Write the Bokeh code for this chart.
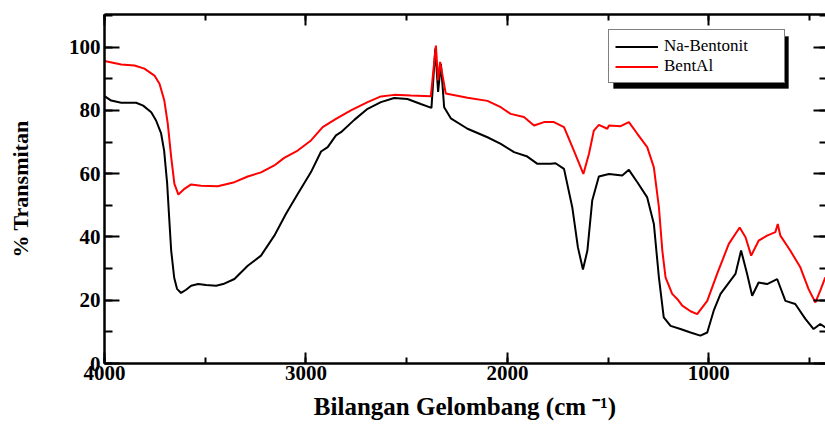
from bokeh.plotting import figure
from bokeh.models import Range1d, LinearAxis, SingleIntervalTicker, Legend, LegendItem, BoxAnnotation
from bokeh.embed import file_html
from bokeh.resources import INLINE

# Na-Bentonit (black)
wn_na = [4000, 3967, 3917, 3843, 3808, 3768, 3744, 3719, 3704, 3689, 3679, 3669, 3654,
         3640, 3620, 3595, 3570, 3535, 3496, 3446, 3411, 3355, 3289, 3223, 3157, 3099,
         3041, 2975, 2925, 2892, 2851, 2826, 2760, 2694, 2628, 2562, 2496, 2430, 2377,
         2358, 2344, 2330, 2314, 2281, 2198, 2099, 2033, 1967, 1901, 1851, 1785, 1761,
         1719, 1678, 1650, 1625, 1603, 1579, 1546, 1496, 1430, 1397, 1355, 1306, 1273,
         1248, 1224, 1190, 1141, 1091, 1042, 1008, 976, 942, 893, 868, 840, 810, 785,
         753, 711, 661, 620, 571, 521, 480, 447, 422]
t_na = [84.5, 83.1, 82.4, 82.4, 81.5, 79.4, 76.8, 72.7, 67.3, 56.9, 46.1, 35.7, 27.1,
        23.6, 22.3, 23.3, 24.6, 25.1, 24.8, 24.6, 25.1, 26.7, 30.9, 34.1, 40.4, 47.3,
        53.6, 60.5, 67.0, 68.4, 72.1, 73.1, 77.0, 80.5, 82.6, 83.9, 83.6, 82.0, 80.8,
        99.5, 85.8, 94.7, 81.0, 77.5, 74.2, 71.5, 69.4, 66.8, 65.4, 63.1, 63.1, 63.3,
        61.5, 49.4, 36.7, 29.7, 35.7, 51.5, 59.1, 59.9, 59.4, 61.2, 57.3, 52.5, 44.1,
        27.2, 14.6, 11.9, 10.9, 9.8, 8.8, 9.8, 16.7, 22.0, 26.2, 28.3, 35.7, 28.3, 21.4,
        25.6, 25.1, 26.7, 19.8, 18.8, 14.1, 10.9, 12.5, 11.4]

# BentAl (red)
wn_al = [4000, 3917, 3851, 3802, 3752, 3727, 3703, 3686, 3669, 3653, 3633, 3603, 3570,
         3521, 3438, 3355, 3289, 3223, 3157, 3108, 3041, 2975, 2917, 2851, 2777, 2694,
         2628, 2562, 2479, 2380, 2355, 2344, 2334, 2306, 2198, 2099, 2033, 1984, 1918,
         1868, 1818, 1769, 1719, 1670, 1623, 1595, 1571, 1546, 1504, 1496, 1438, 1397,
         1355, 1306, 1273, 1248, 1231, 1215, 1182, 1157, 1132, 1091, 1058, 1008, 959,
         901, 847, 818, 790, 753, 711, 670, 658, 645, 596, 546, 505, 471, 447, 422]
t_al = [95.6, 94.5, 94.2, 93.2, 91.0, 88.4, 83.1, 75.8, 65.2, 56.8, 53.4, 55.2, 56.6,
        56.2, 56.0, 57.3, 59.1, 60.4, 62.6, 65.0, 67.3, 70.5, 74.7, 77.3, 80.0, 82.6,
        84.4, 84.9, 84.7, 84.5, 100.5, 89.5, 95.3, 85.3, 84.0, 83.0, 81.0, 78.9, 77.9,
        75.2, 76.3, 76.3, 74.7, 67.3, 59.9, 66.3, 73.6, 75.4, 74.2, 75.2, 75.0, 76.3,
        72.6, 68.4, 62.0, 49.4, 35.7, 27.2, 22.0, 20.4, 18.3, 16.5, 15.6, 19.8, 28.3,
        37.8, 43.0, 39.9, 34.1, 38.8, 40.4, 41.5, 44.1, 40.4, 35.7, 30.4, 23.5, 19.3,
        23.0, 27.2]

series_labels = ["Na-Bentonit", "BentAl"]
x_label = "Bilangan Gelombang (cm \u207b\u00b9)"
y_label = "% Transmitan"

FONT = "Liberation Serif"

W, H = 825, 426
B_LEFT, B_TOP, B_BOTTOM = 104, 14, 63
X0, X1 = 4000, 421
Y0, Y1 = 0, 110.3

p = figure(width=W, height=H, output_backend="svg", toolbar_location=None,
           x_range=Range1d(X0, X1), y_range=Range1d(Y0, Y1),
           min_border_left=B_LEFT, min_border_right=0, min_border_top=B_TOP,
           min_border_bottom=B_BOTTOM,
           x_axis_label=x_label, y_axis_label=y_label)
p.grid.visible = False
p.outline_line_color = None
p.background_fill_color = "white"
p.border_fill_color = "white"

p.xaxis.ticker = SingleIntervalTicker(interval=1000, num_minor_ticks=2)
p.yaxis.ticker = SingleIntervalTicker(interval=20, num_minor_ticks=2)

for ax in (p.xaxis[0], p.yaxis[0]):
    ax.axis_line_width = 2.5
    ax.major_tick_out = 0
    ax.minor_tick_out = 0
    ax.major_tick_line_width = 2
    ax.minor_tick_line_width = 2
    ax.major_label_text_font = FONT
    ax.major_label_text_font_style = "bold"
    ax.major_label_text_font_size = "21px"
    ax.major_label_text_color = "black"
    ax.axis_label_text_font = FONT
    ax.axis_label_text_font_style = "bold"
    ax.axis_label_text_color = "black"

p.xaxis.major_tick_in = 11
p.xaxis.minor_tick_in = 6
p.xaxis.major_label_standoff = 2
p.xaxis.axis_label_standoff = 10
p.xaxis.axis_label_text_font_size = "25px"
p.yaxis.major_tick_in = 15
p.yaxis.minor_tick_in = 8
p.yaxis.major_label_standoff = 4
p.yaxis.axis_label_standoff = 33
p.yaxis.axis_label_text_font_size = "22px"

top_axis = LinearAxis(ticker=SingleIntervalTicker(interval=1000, num_minor_ticks=2),
                      major_label_text_font_size="1px", major_label_text_color=None,
                      major_label_standoff=0,
                      major_tick_in=11, major_tick_out=0, minor_tick_in=6, minor_tick_out=0,
                      major_tick_line_width=2, minor_tick_line_width=2, axis_line_width=2.5)
right_axis = LinearAxis(ticker=SingleIntervalTicker(interval=20, num_minor_ticks=2),
                        major_label_text_font_size="1px", major_label_text_color=None,
                        major_label_standoff=0, axis_line_color=None,
                        major_tick_in=12, major_tick_out=0, minor_tick_in=6, minor_tick_out=0,
                        major_tick_line_width=2, minor_tick_line_width=2)
p.add_layout(top_axis, "above")
p.add_layout(right_axis, "right")

rb = p.line(wn_na, t_na, line_color="black", line_width=2)
rr = p.line(wn_al, t_al, line_color="red", line_width=2)

# legend box (screen px, relative to the frame's bottom-left) and its drop shadow
frame_w = W - B_LEFT
frame_h = H - B_TOP - B_BOTTOM
LG_X, LG_Y, LG_W, LG_H, SH = 504, 280, 175, 52, 5

def px_to_x(px):
    return X0 + (X1 - X0) * px / frame_w

def px_to_y(py):
    return Y0 + (Y1 - Y0) * py / frame_h

shadow = BoxAnnotation(left=px_to_x(LG_X + SH), right=px_to_x(LG_X + LG_W + SH),
                       bottom=px_to_y(LG_Y - SH), top=px_to_y(LG_Y + LG_H - SH),
                       fill_color="black", fill_alpha=1.0, line_color="black")
p.add_layout(shadow)

items = [LegendItem(label=series_labels[0], renderers=[rb]),
         LegendItem(label=series_labels[1], renderers=[rr])]
legend = Legend(items=items, location=(LG_X, LG_Y), orientation="vertical",
                border_line_color="black", border_line_width=1,
                background_fill_color="white", background_fill_alpha=1.0,
                padding=6, margin=0, spacing=0,
                glyph_width=43, glyph_height=15, label_height=15, label_standoff=6,
                label_width=114,
                label_text_font=FONT, label_text_font_size="17px",
                label_text_color="black")
p.add_layout(legend, "center")

open("out.html", "w").write(file_html(p, INLINE))
